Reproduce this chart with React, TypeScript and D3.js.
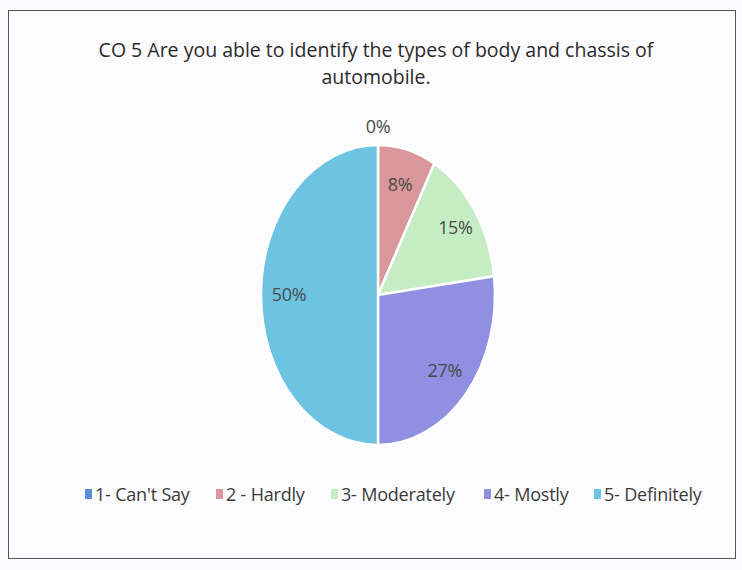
import React from "react";
import * as d3 from "d3";

const categories = ["1- Can't Say", "2 - Hardly", "3- Moderately", "4- Mostly", "5- Definitely"];
const values = [0, 8, 15, 27, 50];
const colors = ["#5b8fd8", "#d9979c", "#c6ecc4", "#8f90e2", "#6cc4e2"];
const titleLines = ["CO 5 Are you able to identify the types of body and chassis of", "automobile."];

const W = 742, H = 570;
const cx = 378, cy = 295, rx = 117, ry = 150;

export default function App() {
  const pie = d3.pie<number>().sort(null).value((d) => d)(values);
  const arc = d3.arc<d3.PieArcDatum<number>>().innerRadius(0).outerRadius(ry);
  const sx = rx / ry;
  const font = "'Open Sans', 'Liberation Sans', sans-serif";
  const legendX = [85, 216, 331, 484, 594];
  return (
    <svg width={W} height={H} style={{ position: "absolute", left: 0, top: 0, background: "#fbfbfd" }}>
      <rect x={8.5} y={10.5} width={727} height={548} fill="#fcfcfe" stroke="#555" strokeWidth={1} />
      {titleLines.map((t, i) => (
        <text key={i} x={376} y={57 + i * 27} textAnchor="middle" fontFamily={font} fontSize={19.5} fill="#2a2a2a" letterSpacing={0}>
          {t}
        </text>
      ))}
      <g transform={`translate(${cx},${cy}) scale(${sx},1)`}>
        {pie.map((p, i) => (
          <path key={i} d={arc(p) || ""} fill={colors[i]} stroke="#fff" strokeWidth={2.5} vectorEffect="non-scaling-stroke" />
        ))}
      </g>
      {pie.map((p, i) => {
        const a = (p.startAngle + p.endAngle) / 2;
        const f = p.value === 0 ? 1.12 : i === 2 ? 0.8 : 0.76;
        const x = cx + Math.sin(a) * rx * f;
        const y = cy - Math.cos(a) * ry * f;
        return (
          <text key={i} x={x} y={y} dy="0.35em" textAnchor="middle" fontFamily={font} fontSize={18} fill="#4a4a4a" letterSpacing={-0.3}>
            {values[i]}%
          </text>
        );
      })}
      {categories.map((c, i) => (
        <g key={i} transform={`translate(${legendX[i]},495)`}>
          <rect x={0} y={-6} width={7} height={10} fill={colors[i]} />
          <text x={10} y={0} dy="0.35em" fontFamily={font} fontSize={18} fill="#3a3a3a" letterSpacing={-0.2}>
            {c}
          </text>
        </g>
      ))}
    </svg>
  );
}
